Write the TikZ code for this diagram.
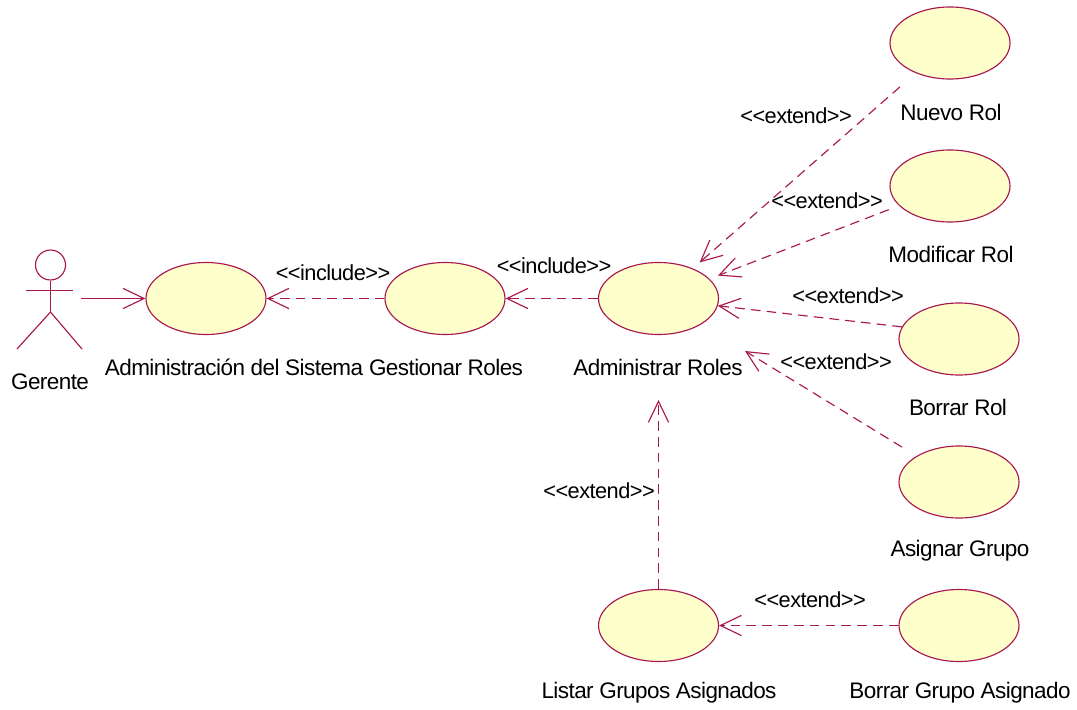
\documentclass[tikz,border=0pt]{standalone}
\usepackage{fontspec}
\setmainfont[LetterSpace=-2.5]{Liberation Sans}
\usetikzlibrary{arrows.meta,shapes.geometric}
\definecolor{umlline}{HTML}{A8174F}
\definecolor{umlfill}{HTML}{FFFFCB}
\tikzset{
  usecase/.style={draw=umlline,line width=0.65pt,fill=umlfill,ellipse,minimum width=120*0.02cm,minimum height=72*0.02cm,inner sep=0pt},
  actorline/.style={draw=umlline,line width=0.65pt},
  assoc/.style={draw=umlline,line width=0.65pt,-{Straight Barb[length=12pt,width=11.5pt,line width=0.65pt]}},
  depend/.style={assoc,dash pattern=on 5.5pt off 3.5pt},
  lbl/.style={font=\fontsize{12.8}{14}\selectfont,inner sep=0pt},
  stereo/.style={font=\fontsize{12.4}{14}\selectfont,inner sep=0pt}
}
\begin{document}
\begin{tikzpicture}[x=0.02cm,y=-0.02cm]
  \useasboundingbox (0,0) rectangle (1077,709);
  % actor
  \node[draw=umlline,circle,minimum size=30*0.02cm,inner sep=0pt,line width=0.65pt] (gerente) at (50.5,265) {};
  \coordinate (hip) at (50.5,312);
  \coordinate (armL) at (26,290.5);
  \coordinate (armR) at (73,290.5);
  \coordinate (legL) at (17,349);
  \coordinate (legR) at (82,349);
  \coordinate (gerenteOut) at (81,298.5);
  \draw[actorline] (gerente.south) -- (hip);
  \draw[actorline] (armL) -- (armR);
  \draw[actorline] (legL) -- (hip) -- (legR);
  \node[lbl] (gerenteLbl) at (50,382) {Gerente};

  % use cases
  \node[usecase] (sistema) at (206,298.5) {};
  \node[usecase] (gestionar) at (445,298.5) {};
  \node[usecase] (administrar) at (658.5,298.5) {};
  \node[usecase] (nuevo) at (950,43) {};
  \node[usecase] (modificar) at (950,186) {};
  \node[usecase] (borrar) at (959,339) {};
  \node[usecase] (asignar) at (959,482) {};
  \node[usecase] (listar) at (658.5,625.5) {};
  \node[usecase] (borrarGrupo) at (959,625.5) {};

  \node[lbl] (sistemaLbl) at (234,367) {Administración del Sistema};
  \node[lbl] (gestionarLbl) at (446,367) {Gestionar Roles};
  \node[lbl] (administrarLbl) at (658,367) {Administrar Roles};
  \node[lbl] (nuevoLbl) at (951,112) {Nuevo Rol};
  \node[lbl] (modificarLbl) at (951,254) {Modificar Rol};
  \node[lbl] (borrarLbl) at (958,407) {Borrar Rol};
  \node[lbl] (asignarLbl) at (960,551) {Asignar Grupo};
  \node[lbl] (listarLbl) at (659,693) {Listar Grupos Asignados};
  \node[lbl] (borrarGrupoLbl) at (960,693) {Borrar Grupo Asignado};

  % free arrow ends
  \coordinate (adminSE) at (745,351);
  \coordinate (adminS) at (658.5,400);

  \draw[assoc] (gerenteOut) -- (sistema.west);
  \draw[depend] (gestionar.west) -- (sistema.east);
  \draw[depend] (administrar.west) -- (gestionar.east);
  \draw[depend,shorten <=0.42cm,shorten >=0.18cm] (nuevo) -- (administrar);
  \draw[depend,shorten <=0.22cm,shorten >=0.18cm] (modificar) -- (administrar);
  \draw[depend] (borrar.168) -- (administrar.-7);
  \draw[depend,shorten <=0.34cm] (asignar) -- (adminSE);
  \draw[depend] (listar.north) -- (adminS);
  \draw[depend] (borrarGrupo.west) -- (listar.east);

  \node[stereo] (incl1) at (333,273) {<{}<include>{}>};
  \node[stereo] (incl2) at (554,266) {<{}<include>{}>};
  \node[stereo] (ext1) at (796,116) {<{}<extend>{}>};
  \node[stereo] (ext2) at (827,201) {<{}<extend>{}>};
  \node[stereo] (ext3) at (848,296) {<{}<extend>{}>};
  \node[stereo] (ext4) at (836,362) {<{}<extend>{}>};
  \node[stereo] (ext5) at (599,491) {<{}<extend>{}>};
  \node[stereo] (ext6) at (810,600) {<{}<extend>{}>};
\end{tikzpicture}
\end{document}
